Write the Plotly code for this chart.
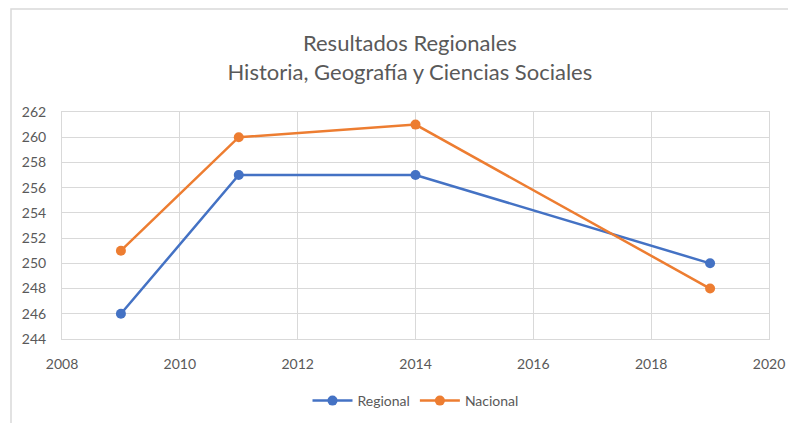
import plotly.graph_objects as go

years = [2009, 2011, 2014, 2019]
regional = [246, 257, 257, 250]
nacional = [251, 260, 261, 248]

FONT = "Lato, Open Sans, sans-serif"
GREY = "#595959"

fig = go.Figure()
fig.add_trace(go.Scatter(x=years, y=regional, name="Regional", mode="lines+markers",
                         line=dict(color="#4472C4", width=2.5),
                         marker=dict(size=10, color="#4472C4")))
fig.add_trace(go.Scatter(x=years, y=nacional, name="Nacional", mode="lines+markers",
                         line=dict(color="#ED7D31", width=2.5),
                         marker=dict(size=10, color="#ED7D31")))

OFF = 8  # page body margin
W, H = 796 - OFF, 423 - OFF
L, T = 62 - OFF, 112 - OFF
pw, ph = 707, 227
R, B = W - L - pw, H - T - ph
ybot = T + ph  # plot bottom in figure px

fig.update_layout(
    width=W, height=H,
    margin=dict(l=L, r=R, t=T, b=B, autoexpand=False),
    paper_bgcolor="white", plot_bgcolor="white",
    font=dict(family=FONT, color=GREY, size=14),
    title=dict(text="Resultados Regionales<br>Historia, Geografía y Ciencias Sociales",
               x=0.51, xanchor="center", y=1 - (51 - OFF) / H, yanchor="middle",
               font=dict(size=22, color=GREY, family=FONT)),
    xaxis=dict(range=[2008, 2020], dtick=2, tick0=2008, showgrid=True, gridcolor="#d9d9d9",
               showline=True, linecolor="#d9d9d9", mirror=True, zeroline=False,
               automargin=False,
               ticks="outside", ticklen=12, tickcolor="rgba(0,0,0,0)",
               tickfont=dict(size=14, color=GREY)),
    yaxis=dict(range=[244, 262], dtick=2, tick0=244, showgrid=True, gridcolor="#d9d9d9",
               showline=True, linecolor="#d9d9d9", mirror=True, zeroline=False,
               automargin=False,
               ticks="outside", ticklen=12, tickcolor="rgba(0,0,0,0)",
               tickfont=dict(size=14, color=GREY)),
    legend=dict(orientation="h", x=0.5, xanchor="center",
                y=(ybot - (401 - OFF)) / ph, yanchor="middle",
                font=dict(size=14, color=GREY), itemwidth=40),
    showlegend=True,
)

# outer chart border (light grey)
fig.add_shape(type="rect", xref="paper", yref="paper",
              x0=(11 - 62) / pw, x1=(W + 20 - L) / pw,
              y0=(ybot - (H + 20)) / ph, y1=(ybot - 1) / ph,
              line=dict(color="#d9d9d9", width=1.5), fillcolor="rgba(0,0,0,0)", layer="below")

fig.write_html("out.html")
